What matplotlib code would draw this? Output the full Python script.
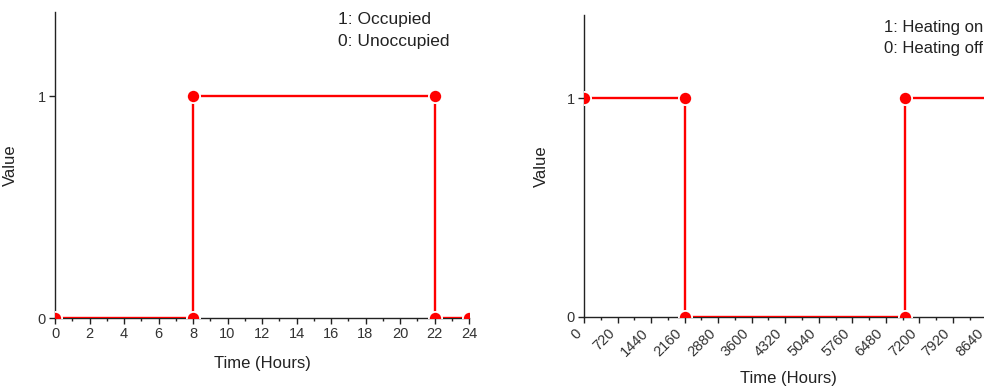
import matplotlib
matplotlib.use("Agg")
import matplotlib.pyplot as plt
import numpy as np
from matplotlib.ticker import MultipleLocator

plt.rcParams['font.family'] = ['Liberation Sans', 'DejaVu Sans']

# Data
occ_hours = [0, 8, 8, 22, 22, 24]
occ_values = [0, 0, 1, 1, 0, 0]
occ_labels = ["1: Occupied", "0: Unoccupied"]

heat_hours = [0, 2160, 2160, 6900, 6900, 8760]
heat_values = [1, 1, 0, 0, 1, 1]
heat_labels = ["1: Heating on", "0: Heating off"]

W, H = 984, 389
fig = plt.figure(figsize=(W / 100, H / 100), dpi=100)

def px_axes(x0, x1, ytop, ybot):
    return fig.add_axes([x0 / W, (H - ybot) / H, (x1 - x0) / W, (ybot - ytop) / H])

ax1 = px_axes(55, 469, 12, 318)
ax2 = px_axes(584, 992, 15, 317)

red = '#ff0000'
axcol = '#222222'
tickcol = '#333333'

for ax, xs, ys in [(ax1, occ_hours, occ_values), (ax2, heat_hours, heat_values)]:
    ax.plot(xs, ys, color=red, lw=1.7, marker='o', ms=9.5,
            markerfacecolor=red, markeredgecolor='white', markeredgewidth=1.3,
            clip_on=True, zorder=3)
    ax.set_ylim(0, 1.38)
    ax.set_yticks([0, 1])
    for s in ['top', 'right']:
        ax.spines[s].set_visible(False)
    for s in ['left', 'bottom']:
        ax.spines[s].set_color(axcol)
        ax.spines[s].set_linewidth(1.0)
    ax.tick_params(axis='both', which='major', direction='out', length=4.5, width=1.0,
                   color=axcol, labelcolor=tickcol, labelsize=10.5, pad=2)
    ax.tick_params(axis='x', which='minor', direction='out', length=2.5, width=1.0, color=axcol)
    ax.set_ylabel('Value', fontsize=12, color=axcol)
    ax.set_xlabel('Time (Hours)', fontsize=12, color=axcol)

# Left chart
ax1.set_xlim(0, 24)
ax1.set_xticks(np.arange(0, 25, 2))
ax1.xaxis.set_minor_locator(MultipleLocator(1))
ax1.yaxis.set_label_coords(-0.09, 0.5)
ax1.xaxis.set_label_coords(0.5, -0.125)
ax1.text(0.684, 0.975, occ_labels[0], transform=ax1.transAxes, fontsize=12.5,
         color=axcol, ha='left', va='center')
ax1.text(0.684, 0.903, occ_labels[1], transform=ax1.transAxes, fontsize=12.5,
         color=axcol, ha='left', va='center')

# Right chart
ax2.set_xlim(0, 8760)
ax2.set_xticks(np.arange(0, 8761, 720))
ax2.xaxis.set_minor_locator(MultipleLocator(360))
for lbl in ax2.get_xticklabels():
    lbl.set_rotation(45)
    lbl.set_ha('right')
    lbl.set_va('top')
ax2.tick_params(axis='x', which='major', labelsize=10.5)
ax2.yaxis.set_label_coords(-0.085, 0.5)
ax2.xaxis.set_label_coords(0.5, -0.18)
ax2.text(0.735, 0.96, heat_labels[0], transform=ax2.transAxes, fontsize=12,
         color=axcol, ha='left', va='center')
ax2.text(0.735, 0.89, heat_labels[1], transform=ax2.transAxes, fontsize=12,
         color=axcol, ha='left', va='center')

fig.savefig('out.png', dpi=100)
